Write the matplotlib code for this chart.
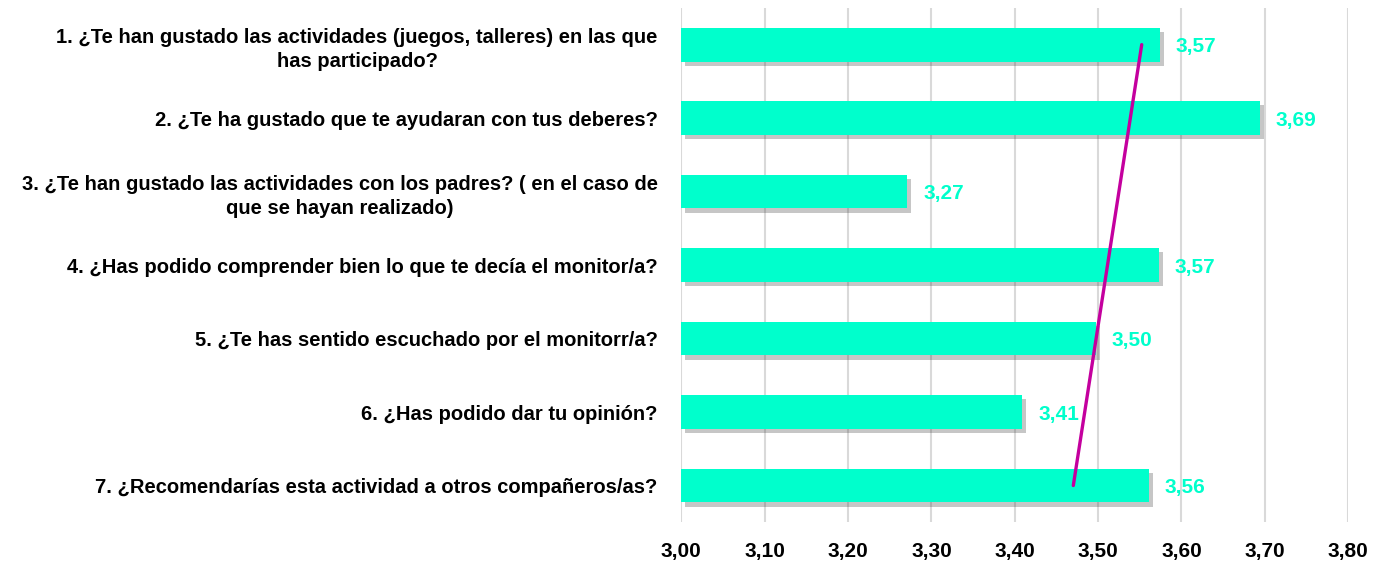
import matplotlib
matplotlib.use("Agg")
import matplotlib.pyplot as plt
import matplotlib.patheffects as pe
import numpy as np

plt.rcParams['font.family'] = ['Liberation Sans', 'DejaVu Sans']

preguntas = [
    "1. ¿Te han gustado las actividades (juegos, talleres) en las que\nhas participado?",
    "2. ¿Te ha gustado que te ayudaran con tus deberes?",
    "3. ¿Te han gustado las actividades con los padres? ( en el caso de\nque se hayan realizado)",
    "4. ¿Has podido comprender bien lo que te decía el monitor/a?",
    "5. ¿Te has sentido escuchado por el monitorr/a?",
    "6. ¿Has podido dar tu opinión?",
    "7. ¿Recomendarías esta actividad a otros compañeros/as?",
]
valores = [3.574, 3.694, 3.271, 3.573, 3.497, 3.409, 3.561]
ticks_x = [3.0, 3.1, 3.2, 3.3, 3.4, 3.5, 3.6, 3.7, 3.8]

bar_color = "#00FFCC"
trend_color = "#C4009E"

fig = plt.figure(figsize=(13.75, 5.64), dpi=100)
ax = fig.add_axes([0.4955, 0.074, 0.485, 0.912])

y = np.arange(len(valores))
bars = ax.barh(y, [v - 3.0 for v in valores], left=3.0, height=0.46,
               color=bar_color, zorder=3)
for b in bars:
    b.set_path_effects([pe.SimplePatchShadow(offset=(3, -3), alpha=0.3, shadow_rgbFace="#444444"),
                        pe.Normal()])

# etiquetas de valor
for yi, v in zip(y, valores):
    ax.text(v + 0.019, yi + 0.03, f"{v:.2f}".replace('.', ','), va='center', ha='left',
            color=bar_color, fontsize=15, fontweight='bold', zorder=5)

# linea de tendencia (lineal sobre el indice de categoria)
idx = np.arange(1, len(valores) + 1)
m, c = np.polyfit(idx, valores, 1)
ax.plot(m * idx[[0, -1]] + c, y[[0, -1]], color=trend_color, lw=2.4,
        solid_capstyle='round', zorder=4)

ax.set_xlim(3.0, 3.8)
ax.set_ylim(len(valores) - 0.5, -0.5)
ax.set_xticks(ticks_x)
ax.set_xticklabels([f"{t:.2f}".replace('.', ',') for t in ticks_x],
                   fontsize=15, fontweight='bold')
ax.set_yticks(y)
ax.set_yticklabels(preguntas, fontsize=14.5, fontweight='bold',
                   multialignment='center', linespacing=1.35)
ax.tick_params(axis='x', length=0, pad=14)
ax.tick_params(axis='y', length=0, pad=17)
ax.grid(axis='x', color='#D9D9D9', lw=1.5, zorder=0)
ax.set_axisbelow(True)
for s in ax.spines.values():
    s.set_visible(False)

fig.savefig("out.png", dpi=100)
